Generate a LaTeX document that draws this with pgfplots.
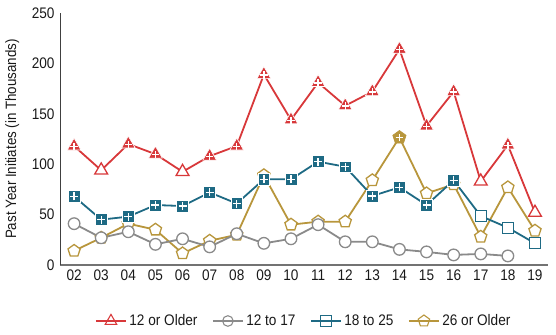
\documentclass[border=0pt]{standalone}
\usepackage{fontspec}
\setmainfont[FakeStretch=0.89]{Liberation Sans}
\usepackage{pgfplots}
\usepackage{pgfplotstable}
\pgfplotsset{compat=1.18}

\definecolor{cred}{HTML}{D8383A}
\definecolor{cgray}{HTML}{8A8A8A}
\definecolor{cblue}{HTML}{1E6A84}
\definecolor{cgold}{HTML}{B8963C}

% filled marks carrying a white plus sign
\pgfdeclareplotmark{tri+}{%
  \pgfuseplotmark{triangle*}%
  \pgfsetstrokecolor{white}\pgfsetlinewidth{1.4bp}%
  \pgfpathmoveto{\pgfqpoint{-0.46\pgfplotmarksize}{-0.05\pgfplotmarksize}}%
  \pgfpathlineto{\pgfqpoint{0.46\pgfplotmarksize}{-0.05\pgfplotmarksize}}%
  \pgfpathmoveto{\pgfqpoint{0pt}{-0.51\pgfplotmarksize}}%
  \pgfpathlineto{\pgfqpoint{0pt}{0.41\pgfplotmarksize}}%
  \pgfusepathqstroke}
\pgfdeclareplotmark{sq+}{%
  \pgfuseplotmark{square*}%
  \pgfsetstrokecolor{white}\pgfsetlinewidth{1.4bp}%
  \pgfpathmoveto{\pgfqpoint{-0.68\pgfplotmarksize}{0pt}}%
  \pgfpathlineto{\pgfqpoint{0.68\pgfplotmarksize}{0pt}}%
  \pgfpathmoveto{\pgfqpoint{0pt}{-0.68\pgfplotmarksize}}%
  \pgfpathlineto{\pgfqpoint{0pt}{0.68\pgfplotmarksize}}%
  \pgfusepathqstroke}
\pgfdeclareplotmark{pent+}{%
  \pgfuseplotmark{pentagon*}%
  \pgfsetstrokecolor{white}\pgfsetlinewidth{1.4bp}%
  \pgfpathmoveto{\pgfqpoint{-0.55\pgfplotmarksize}{0pt}}%
  \pgfpathlineto{\pgfqpoint{0.55\pgfplotmarksize}{0pt}}%
  \pgfpathmoveto{\pgfqpoint{0pt}{-0.55\pgfplotmarksize}}%
  \pgfpathlineto{\pgfqpoint{0pt}{0.55\pgfplotmarksize}}%
  \pgfusepathqstroke}

% x: 0 = 2002 ... 17 = 2019; s: f = filled (with plus), o = open
\pgfplotstableread{
x y s
0 118 f
1 94 o
2 120 f
3 110 f
4 92.5 o
5 108 f
6 118 f
7 189 f
8 144 f
9 181 f
10 158 f
11 172 f
12 214 f
13 138 f
14 172 f
15 83 o
16 119 f
17 52 o
}\tabRed
\pgfplotstableread{
x y s
0 41 o
1 27 o
2 33 o
3 20.5 o
4 26 o
5 18 o
6 31 o
7 21.5 o
8 26 o
9 40 o
10 23 o
11 23 o
12 15.5 o
13 13 o
14 10 o
15 11 o
16 9 o
}\tabGray
\pgfplotstableread{
x y s
0 68 f
1 45 f
2 48 f
3 59.5 f
4 58.5 f
5 72 f
6 61 f
7 85 f
8 85 f
9 102.5 f
10 97.5 f
11 68.5 f
12 77 f
13 59.5 f
14 84 f
15 48.6 o
16 37 o
17 21.5 o
}\tabBlue
\pgfplotstableread{
x y s
0 14 o
1 27 o
2 41 o
3 35 o
4 11.5 o
5 24 o
6 30 o
7 89 o
8 40 o
9 43 o
10 43 o
11 84 o
12 126.5 f
13 71 o
14 80 o
15 28 o
16 77 o
17 34 o
}\tabGold

\begin{document}
\begin{tikzpicture}
\begin{axis}[
  scale only axis, width=488bp, height=252bp,
  xmin=-0.52, xmax=17.48, ymin=0, ymax=250,
  axis x line=bottom, axis y line=left,
  x axis line style={-, draw=black!55, line width=1.6bp},
  y axis line style={-, draw=black!75, line width=0.9bp},
  xtick={0,...,17},
  xticklabels={02,03,04,05,06,07,08,09,10,11,12,13,14,15,16,17,18,19},
  ytick={0,50,...,250},
  major tick length=0pt,
  /pgf/number format/assume math mode=true,
  tick label style={font=\fontsize{15.3bp}{17bp}\selectfont, text=black!90},
  xticklabel style={yshift=-1.5bp},
  yticklabel style={xshift=-2bp},
  ylabel={Past Year Initiates (in Thousands)},
  every axis y label/.style={at={(axis description cs:-0.098,0.5)}, rotate=90, anchor=center,
    font=\fontsize{15bp}{17bp}\selectfont, text=black!90},
  clip=false,
  legend columns=4,
  legend style={at={(0.5,0)}, anchor=center, yshift=-56bp, draw=none, fill=none,
    font=\fontsize{15.3bp}{17bp}\selectfont, text=black!90,
    inner sep=0pt,
    nodes={inner xsep=2.5bp},
    /tikz/every even column/.append style={column sep=12bp}},
  legend image code/.code={\draw[#1, mark repeat=2, mark phase=2]
    plot coordinates {(0bp,0bp) (15bp,0bp) (30bp,0bp)};},
]
\addlegendimage{cred, line width=1.8bp, mark=triangle, mark size=6.6bp, mark options={fill=white, line width=1.1bp}}
\addlegendentry{12 or Older}
\addlegendimage{cgray, line width=1.8bp, mark=o, mark size=5.3bp, mark options={fill=white, line width=1.1bp}}
\addlegendentry{12 to 17}
\addlegendimage{cblue, line width=1.8bp, mark=square, mark size=5.2bp, mark options={fill=white, line width=1.1bp}}
\addlegendentry{18 to 25}
\addlegendimage{cgold, line width=1.8bp, mark=pentagon, mark size=6bp, mark options={fill=white, line width=1.1bp}}
\addlegendentry{26 or Older}

% 26 or Older
\addplot[cgold, line width=1.8bp, forget plot] table[x=x, y=y] {\tabGold};
\addplot[scatter, only marks, forget plot, scatter src=explicit symbolic,
  scatter/classes={
    o={mark=pentagon*, mark size=6.4bp, draw=cgold, fill=white, line width=1.3bp},
    f={mark=pent+, mark size=7bp, draw=cgold, fill=cgold, line width=0.6bp}}]
  table[x=x, y=y, meta=s] {\tabGold};
% 12 to 17
\addplot[cgray, line width=1.8bp, forget plot] table[x=x, y=y] {\tabGray};
\addplot[scatter, only marks, forget plot, scatter src=explicit symbolic,
  scatter/classes={
    o={mark=*, mark size=5.8bp, draw=cgray, fill=white, line width=1.3bp}}]
  table[x=x, y=y, meta=s] {\tabGray};
% 18 to 25
\addplot[cblue, line width=1.8bp, forget plot] table[x=x, y=y] {\tabBlue};
\addplot[scatter, only marks, forget plot, scatter src=explicit symbolic,
  scatter/classes={
    o={mark=square*, mark size=5.5bp, draw=cblue, fill=white, line width=1.3bp},
    f={mark=sq+, mark size=5.9bp, draw=white, fill=cblue, line width=0.6bp}}]
  table[x=x, y=y, meta=s] {\tabBlue};
% 12 or Older
\addplot[cred, line width=1.8bp, forget plot] table[x=x, y=y] {\tabRed};
\addplot[scatter, only marks, forget plot, scatter src=explicit symbolic,
  scatter/classes={
    o={mark=triangle*, mark size=7.4bp, draw=cred, fill=white, line width=1.3bp},
    f={mark=tri+, mark size=7.9bp, draw=white, fill=cred, line width=0.6bp}}]
  table[x=x, y=y, meta=s] {\tabRed};
\end{axis}
\pgfresetboundingbox
\path ([shift={(-60bp,-70bp)}]current axis.south west) rectangle ([shift={(8bp,13bp)}]current axis.north east);
\end{tikzpicture}
\end{document}
